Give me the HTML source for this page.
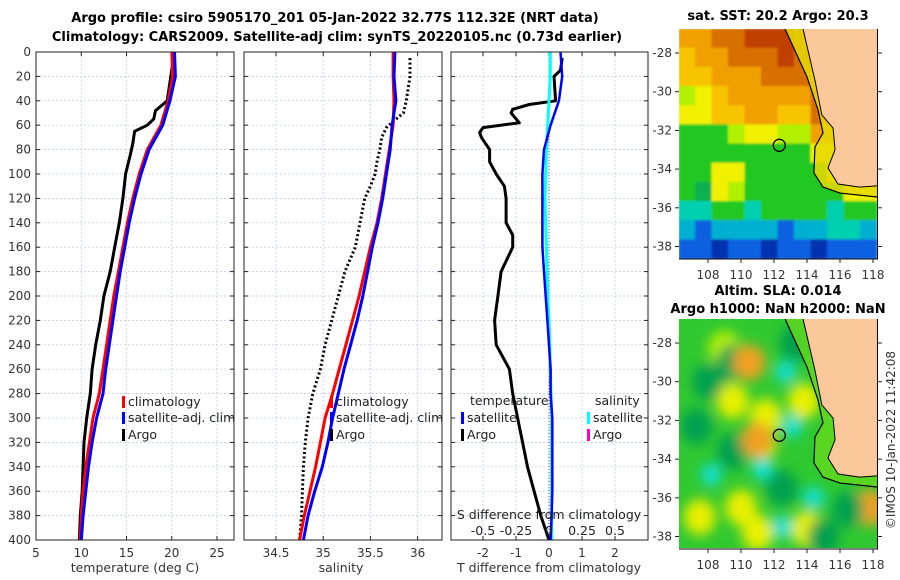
<!DOCTYPE html>
<html><head><meta charset="utf-8"><style>
html,body{margin:0;padding:0;background:#fff;}
svg{display:block;font-family:"DejaVu Sans","Liberation Sans",sans-serif;}
</style></head><body>
<svg id="fig" width="900" height="580" viewBox="0 0 900 580" xmlns="http://www.w3.org/2000/svg">
<defs><filter id="blur" x="-20%" y="-20%" width="140%" height="140%"><feGaussianBlur stdDeviation="6"/></filter><filter id="blur2"><feGaussianBlur stdDeviation="1.0"/></filter>
<clipPath id="clipTop"><rect x="679" y="29" width="198" height="230"/></clipPath>
<clipPath id="clipBot"><rect x="679" y="319" width="199" height="229"/></clipPath></defs>
<text x="335" y="22" font-size="13" font-weight="bold" text-anchor="middle" fill="#000">Argo profile: csiro 5905170_201 05-Jan-2022 32.77S 112.32E (NRT data)</text>
<text x="337" y="41" font-size="13" font-weight="bold" text-anchor="middle" fill="#000">Climatology: CARS2009. Satellite-adj clim: synTS_20220105.nc (0.73d earlier)</text>
<g id="p1"></g>
<g id="p2"></g>
<g id="p3"></g>
<g id="m1"></g>
<g id="m2"></g>
<text x="778" y="20" font-size="13" font-weight="bold" text-anchor="middle">sat. SST: 20.2 Argo: 20.3</text>
<text x="778" y="295" font-size="13" font-weight="bold" text-anchor="middle">Altim. SLA: 0.014</text>
<text x="778" y="313" font-size="13" font-weight="bold" text-anchor="middle">Argo h1000: NaN h2000: NaN</text>
<text transform="translate(895,440) rotate(-90)" font-size="12" fill="#333" text-anchor="middle">©IMOS 10-Jan-2022 11:42:08</text>
</svg>
<script>
const climDepths=[0,20,40,60,80,100,120,140,160,180,200,220,240,260,280,300,320,340,360,380,400];
const tempClim=[20.0,20.1,19.6,18.8,17.3,16.4,15.7,15.1,14.6,14.1,13.6,13.2,12.8,12.4,12.0,11.3,10.9,10.5,10.2,10.0,9.9];
const tempSat=[20.3,20.4,19.8,19.0,17.5,16.6,15.9,15.3,14.8,14.3,13.9,13.5,13.1,12.7,12.4,11.7,11.2,10.8,10.5,10.2,10.0];
const argoTDepths=[5,20,40,48,55,60,65,75,85,100,120,140,160,180,200,220,240,260,280,300,320,340,360,380,400];
const tempArgo=[20.2,19.9,19.5,18.2,18.0,17.3,15.9,15.7,15.4,14.9,14.6,14.2,13.7,13.2,12.5,12.1,11.6,11.2,11.0,10.6,10.3,10.2,10.1,9.9,9.8];
const salClim=[35.74,35.74,35.75,35.74,35.70,35.66,35.62,35.57,35.50,35.44,35.38,35.31,35.24,35.17,35.10,35.02,34.97,34.92,34.86,34.80,34.75];
const salSat=[35.76,35.75,35.77,35.73,35.71,35.67,35.63,35.58,35.52,35.47,35.42,35.36,35.29,35.22,35.16,35.10,35.05,34.99,34.91,34.84,34.79];
const argoSDepths=[5,20,40,50,57,62,70,80,90,100,110,120,140,160,180,200,220,240,260,280,300,320,340,360,380,400];
const salArgo=[35.92,35.92,35.88,35.85,35.74,35.67,35.62,35.60,35.57,35.55,35.50,35.44,35.39,35.34,35.23,35.16,35.09,35.02,34.97,34.89,34.84,34.81,34.79,34.78,34.77,34.75];
const tdiffDepths=[5,15,20,40,43,47,50,58,62,66,70,80,90,100,110,120,140,150,160,180,200,220,240,260,280,300,320,340,360,380,400];
const tdiffArgo=[0.4,0.35,0.15,0.2,-0.6,-1.1,-1.15,-0.9,-2.0,-2.1,-2.05,-1.8,-1.8,-1.6,-1.35,-1.3,-1.3,-1.1,-1.1,-1.45,-1.55,-1.65,-1.6,-1.2,-1.1,-0.95,-0.8,-0.65,-0.45,-0.25,0.0];
const tdiffSat=[0.35,0.4,0.3,0.05,-0.15,-0.2,-0.2,-0.2,-0.2,-0.15,-0.1,-0.05,0,0.05,0.05,0.1,0.1,0.1,0.1,0.08,0.05];
const sdiffSat=[0.01,0.01,0.0,-0.01,-0.02,-0.025,-0.03,-0.025,-0.02,-0.015,-0.01,0,0.005,0.01,0.015,0.02,0.02,0.02,0.02,0.02,0.02];
const depthTicks=[0,20,40,60,80,100,120,140,160,180,200,220,240,260,280,300,320,340,360,380,400];
const tempTicks=[5,10,15,20,25];
const salTicks=[34.5,35,35.5,36];
const salTickLabels=["34.5","35","35.5","36"];
const tdiffTicks=[-2,-1,0,1,2];
const sdiffTicks=[-0.5,-0.25,0,0.25,0.5];
const sdiffTickLabels=["-0.5","-0.25","0","0.25","0.5"];
const lonTicks=[108,110,112,114,116,118];
const latTicks=[-28,-30,-32,-34,-36,-38];
const argoLon=112.32, argoLat=-32.77;

const NS='http://www.w3.org/2000/svg';
function mk(parent,tag,attrs,text){const e=document.createElementNS(NS,tag);for(const k in attrs)e.setAttribute(k,attrs[k]);if(text!==undefined)e.textContent=text;parent.appendChild(e);return e;}
const Y0=52,Y1=540;
const yD=d=>Y0+(d/400)*(Y1-Y0);
function lin(d0,d1,r0,r1){return v=>r0+(v-d0)*(r1-r0)/(d1-d0);}
const xT=lin(5,25,36,217);
const xS=lin(34.5,35,276,323.2);
const xTD=lin(0,1,549,582);
const xSD=lin(0,0.25,549,582);

function panel(g,x0,x1,xs,xticks,xlabels,showDepth){
  const r=mk(g,'rect',{x:x0,y:Y0,width:x1-x0,height:Y1-Y0,fill:'#fff',stroke:'none'});
  
  
  depthTicks.forEach(d=>{
    const l=mk(g,'line',{x1:x0,x2:x1,y1:yD(d),y2:yD(d),stroke:'#b8c4e0','stroke-width':0.7,'stroke-dasharray':'2,2'});
    
    
    mk(g,'line',{x1:x0,x2:x0+4,y1:yD(d),y2:yD(d),stroke:'#222'});
    mk(g,'line',{x1:x1,x2:x1-4,y1:yD(d),y2:yD(d),stroke:'#222'});
    if(showDepth){const t=mk(g,'text',{x:x0-5,y:yD(d)+4,'font-size':12,'text-anchor':'end',fill:'#333'},String(d));
      
      }
  });
  xticks.forEach((v,i)=>{
    const X=xs(v);
    const l=mk(g,'line',{x1:X,x2:X,y1:Y0,y2:Y1,stroke:'#b8c4e0','stroke-width':0.7,'stroke-dasharray':'2,2'});
    
    
    mk(g,'line',{x1:X,x2:X,y1:Y1,y2:Y1-4,stroke:'#222'});
    mk(g,'line',{x1:X,x2:X,y1:Y0,y2:Y0+4,stroke:'#222'});
    const t=mk(g,'text',{x:X,y:Y1+17,'font-size':12,'text-anchor':'middle',fill:'#333'},xlabels[i]);
    
    
  });
}
function path(g,xs,vals,deps,color,w,dash,name){
  const d=vals.map((v,i)=>(i?'L':'M')+xs(v).toFixed(1)+','+yD(deps[i]).toFixed(1)).join('');
  const p=mk(g,'path',{d:d,fill:'none',stroke:color,'stroke-width':w,'stroke-linejoin':'round'});
  if(dash)p.setAttribute('stroke-dasharray',dash);
  
  
}
function frame(g,x0,x1){mk(g,'rect',{x:x0,y:Y0,width:x1-x0,height:Y1-Y0,fill:'none',stroke:'#222','stroke-width':1});}
function legItem(g,x,y,color,label,name){
  const m=mk(g,'rect',{x:x,y:y-10,width:3,height:12,fill:color});
  
  
  const t=mk(g,'text',{x:x+6,y:y,'font-size':12.5,fill:'#222'},label);
  
  
}

// Panel 1
const p1=document.getElementById('p1');
panel(p1,36,234,xT,tempTicks,tempTicks.map(String),true);
path(p1,xT,tempArgo,argoTDepths,'#000',3,null,'argo-temperature-line');
path(p1,xT,tempClim,climDepths,'#f00',3,null,'climatology-temperature-line');
path(p1,xT,tempSat,climDepths,'#00f',3,null,'satellite-temperature-line');
frame(p1,36,234);
legItem(p1,122,406,'#f00','climatology','legend-climatology');
legItem(p1,122,422,'#00f','satellite-adj. clim','legend-satellite');
legItem(p1,122,439,'#000','Argo','legend-argo');
mk(p1,'text',{x:135,y:572,'font-size':12.5,'text-anchor':'middle',fill:'#333'},'temperature (deg C)');

// Panel 2
const p2=document.getElementById('p2');
panel(p2,244,442,xS,salTicks,salTickLabels,false);
path(p2,xS,salArgo,argoSDepths,'#000',3,'2,2.5','argo-salinity-line');
path(p2,xS,salClim,climDepths,'#f00',3,null,'climatology-salinity-line');
path(p2,xS,salSat,climDepths,'#00f',3,null,'satellite-salinity-line');
frame(p2,244,442);
legItem(p2,330,406,'#f00','climatology','legend2-climatology');
legItem(p2,330,422,'#00f','satellite-adj. clim','legend2-satellite');
legItem(p2,330,439,'#000','Argo','legend2-argo');
mk(p2,'text',{x:341,y:572,'font-size':12.5,'text-anchor':'middle',fill:'#333'},'salinity');

// Panel 3
const p3=document.getElementById('p3');
panel(p3,451,648,xTD,tdiffTicks,tdiffTicks.map(String),false);
mk(p3,'line',{x1:xTD(0),x2:xTD(0),y1:Y0,y2:Y1,stroke:'#465','stroke-width':1,'stroke-dasharray':'1,2'});
path(p3,xTD,tdiffArgo,tdiffDepths,'#000',3,null,'argo-temp-diff-line');
path(p3,xSD,sdiffSat,climDepths,'#0ff',3,null,'satellite-sal-diff-line');
path(p3,xTD,tdiffSat,climDepths,'#00f',2.5,null,'satellite-temp-diff-line');
frame(p3,451,648);
mk(p3,'text',{x:470,y:405,'font-size':12.5,fill:'#222'},'temperature');
mk(p3,'text',{x:595,y:405,'font-size':12.5,fill:'#222'},'salinity');
legItem(p3,461,422,'#00f','satellite','legend3-temp-satellite');
legItem(p3,461,439,'#000','Argo','legend3-temp-argo');
legItem(p3,587,422,'#0ff','satellite','legend3-sal-satellite');
legItem(p3,587,439,'#f0c','Argo','legend3-sal-argo');
mk(p3,'text',{x:549,y:519,'font-size':12.5,'text-anchor':'middle',fill:'#222'},'S difference from climatology');
sdiffTicks.forEach((v,i)=>{const t=mk(p3,'text',{x:xSD(v),y:535,'font-size':12.5,'text-anchor':'middle',fill:'#222'},sdiffTickLabels[i]);
  
  });
mk(p3,'text',{x:549,y:572,'font-size':12.5,'text-anchor':'middle',fill:'#333'},'T difference from climatology');

// Maps
const sstGrid=["OODDRRRDDOOO","oOODDDRDDOOO","ooOOODDDOOOO","LYoOOOOODOOO","YYooOOooDDOO","GGGLYYLLOOYY","GGGGGGGGYYYY","GGYYGGGGGYYL","GgYLGGGGGGYY","CCGGCGGGGCGG","TBTTTTBTTCCT","BBNBBNBBNBBB"];
const pal={O:'#f0a000',o:'#f8c400',D:'#d87000',R:'#c04000',Y:'#f0f000',L:'#b0f000',G:'#20c820',g:'#10b050',C:'#00d0b0',T:'#00b0d0',B:'#1060e0',N:'#0030b0'};
const slaBlobLon=[109.5,111.5,111.2,113.8,110.0,107.5,114.0,117.8,109.0,111.0,108.0,109.5,107.3,109.5,115.0,116.5,112.5,113.3,108.2,111.3,112.7,114.4,112.5,113.1,110.5,111.0];
const slaBlobLat=[-31.0,-31.8,-33.2,-31.0,-36.5,-37.0,-37.6,-36.5,-28.3,-37.8,-30.0,-29.0,-32.3,-33.6,-38.0,-36.6,-35.5,-28.0,-34.8,-34.5,-29.5,-36.0,-37.5,-32.3,-29.0,-33.0];
const slaBlobKind=['Y','Y','Y','Y','Y','Y','Y','O','L','Y','g','g','g','g','g','g','g','g','C','C','C','C','C','C','O','O'];
const blobCol={C:'#10e0d8',O:'#f0a020',Y:'#e8f000',L:'#b8f000',g:'#00a050'};
const xLon=lin(108,118,708,873);
const land=[[113.76,-26.5],[113.76,-26.76],[114.48,-29.40],[114.9,-31.2],[115.58,-31.88],[115.7,-33.0],[115.27,-33.94],[115.88,-34.77],[117.2,-34.93],[118.24,-34.87],[118.6,-34.87],[118.6,-26.5]];
const iso=[[112.67,-26.5],[112.67,-26.76],[114.0,-29.24],[114.67,-30.95],[114.97,-32.13],[114.48,-32.86],[114.42,-34.2],[114.97,-34.93],[116.0,-35.24],[118.24,-35.44],[118.6,-35.44]];
function drawMap(g,top,clip,fillFn,bandColor){
  const yLat=lat=>top+24+(-28-lat)*19.35;
  const cg=mk(g,'g',{'clip-path':'url(#'+clip+')'});
  fillFn(cg,yLat);
  const band=iso.concat([[118.6,-26.5]]);
  mk(cg,'polygon',{points:band.map(p=>xLon(p[0])+','+yLat(p[1])).join(' '),fill:bandColor,opacity:0.85});
  const lp=mk(cg,'polygon',{points:land.map(p=>xLon(p[0])+','+yLat(p[1])).join(' '),fill:'#fac89a',stroke:'#000','stroke-width':1});
  
  
  mk(cg,'polyline',{points:iso.map(p=>xLon(p[0])+','+yLat(p[1])).join(' '),fill:'none',stroke:'#000','stroke-width':1.2});
  const c=mk(cg,'circle',{cx:xLon(argoLon),cy:yLat(argoLat),r:6,fill:'none',stroke:'#000','stroke-width':1.3});
  
  
  mk(g,'line',{x1:679,x2:878,y1:top+230,y2:top+230,stroke:'#000'});
  mk(g,'line',{x1:877.5,x2:877.5,y1:top,y2:top+230,stroke:'#000'});
  lonTicks.forEach(v=>{const X=xLon(v);mk(g,'line',{x1:X,x2:X,y1:top+230,y2:top+234,stroke:'#222'});
    const t=mk(g,'text',{x:X,y:top+250,'font-size':12,'text-anchor':'middle',fill:'#333'},String(v));
    
    });
  latTicks.forEach(v=>{const Y=yLat(v);mk(g,'line',{x1:675,x2:679,y1:Y,y2:Y,stroke:'#222'});mk(g,'line',{x1:878,x2:882,y1:Y,y2:Y,stroke:'#222'});
    const t=mk(g,'text',{x:672,y:Y+4,'font-size':12,'text-anchor':'end',fill:'#333'},String(v));
    
    });
}
drawMap(document.getElementById('m1'),29,'clipTop',(cg,yLat)=>{
  const fg=mk(cg,'g',{filter:'url(#blur2)'});
  const cw=198/12,ch=230/12;
  sstGrid.forEach((row,r)=>{for(let c=0;c<12;c++){mk(fg,'rect',{x:679+c*cw-0.5,y:29+r*ch-0.5,width:cw+1,height:ch+1,fill:pal[row[c]]});}});
},'#e8d800');
drawMap(document.getElementById('m2'),319,'clipBot',(cg,yLat)=>{
  mk(cg,'rect',{x:679,y:319,width:199,height:230,fill:'#30c830'});
  const fg=mk(cg,'g',{filter:'url(#blur)'});
  slaBlobLon.forEach((lon,i)=>{
    const k=slaBlobKind[i];
    const b=mk(fg,'ellipse',{cx:xLon(lon),cy:yLat(slaBlobLat[i]),rx:(k==='C'?10:16),ry:(k==='C'?11:18),fill:blobCol[k]});
    
    
  });
},'#60d820');
</script>
</body></html>
